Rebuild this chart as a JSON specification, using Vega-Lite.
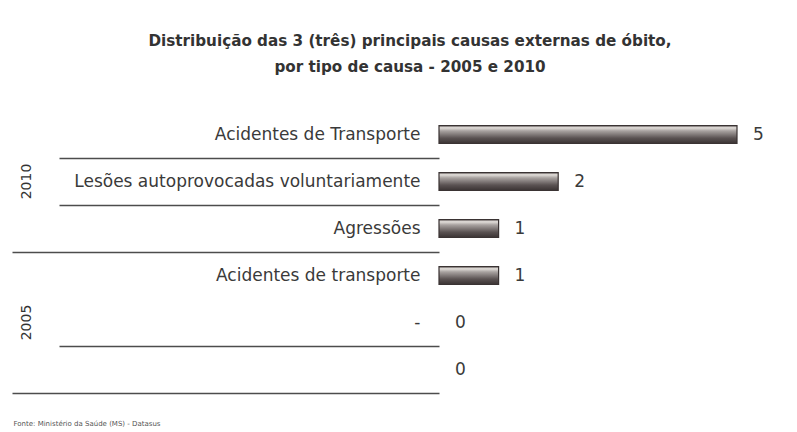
{
  "$schema": "https://vega.github.io/schema/vega-lite/v6.json",
  "autosize": {"type": "pad"},
  "padding": {"left": 11, "top": 33, "right": 0, "bottom": 0},
  "background": "white",
  "bounds": "flush",
  "config": {"view": {"stroke": null}},
  "title": {
    "text": ["Distribuição das 3 (três) principais causas externas de óbito,", "por tipo de causa - 2005 e 2010"],
    "font": "DejaVu Sans",
    "fontSize": 15.2,
    "fontWeight": "bold",
    "color": "#333333",
    "anchor": "start",
    "align": "center",
    "frame": "group",
    "lineHeight": 26,
    "offset": 36,
    "dx": -29
  },
  "data": {
    "values": [
      {"ano": "2010", "ordem": 1, "causa": "Acidentes de Transporte", "obitos": 5},
      {"ano": "2010", "ordem": 2, "causa": "Lesões autoprovocadas voluntariamente", "obitos": 2},
      {"ano": "2010", "ordem": 3, "causa": "Agressões", "obitos": 1},
      {"ano": "2005", "ordem": 4, "causa": "Acidentes de transporte", "obitos": 1},
      {"ano": "2005", "ordem": 5, "causa": "-", "obitos": 0},
      {"ano": "2005", "ordem": 6, "causa": "", "obitos": 0}
    ]
  },
  "facet": {
    "row": {
      "field": "ano",
      "type": "nominal",
      "sort": "descending",
      "header": {
        "title": null,
        "labelAngle": -90,
        "labelFont": "DejaVu Sans",
        "labelFontSize": 14,
        "labelColor": "#333333",
        "labelPadding": 398
      }
    }
  },
  "spacing": {"row": 0},
  "resolve": {"scale": {"y": "independent"}},
  "spec": {
    "width": 298,
    "height": 141,
    "encoding": {
      "y": {
        "field": "causa",
        "type": "nominal",
        "sort": {"field": "ordem", "op": "min"},
        "scale": {"paddingInner": 0, "paddingOuter": 0},
        "axis": {
          "title": null,
          "domain": false,
          "bandPosition": 1,
          "labelFont": "DejaVu Sans",
          "labelFontSize": 17,
          "labelColor": "#3a3a3a",
          "labelLimit": 0,
          "tickColor": "#4d4d4d",
          "tickWidth": 1.5,
          "tickSize": {"condition": {"test": "datum.value === 'Agressões' || datum.value === ''", "value": 427}, "value": 380},
          "labelPadding": {"condition": {"test": "datum.value === 'Agressões' || datum.value === ''", "value": -408}, "value": -361},
          "tickOpacity": {"condition": {"test": "datum.value === 'Acidentes de transporte'", "value": 0}, "value": 1},
          "minExtent": 427,
          "maxExtent": 427
        }
      }
    },
    "layer": [
      {
        "mark": {
          "type": "bar",
          "height": 18,
          "color": {
            "gradient": "linear",
            "x1": 0, "y1": 0, "x2": 0, "y2": 1,
            "stops": [
              {"offset": 0, "color": "#4a4242"},
              {"offset": 0.12, "color": "#e4e0dc"},
              {"offset": 0.3, "color": "#a8a2a0"},
              {"offset": 0.7, "color": "#5a5252"},
              {"offset": 1, "color": "#3a3333"}
            ]
          },
          "stroke": "#3a3333",
          "strokeWidth": 1.2
        },
        "encoding": {
          "x": {
            "field": "obitos",
            "type": "quantitative",
            "scale": {"domain": [0, 5]},
            "axis": {
              "title": "Fonte: Ministério da Saúde (MS) - Datasus",
              "domain": false,
              "ticks": false,
              "labels": false,
              "grid": false,
              "titleFont": "DejaVu Sans",
              "titleFontSize": 7,
              "titleFontWeight": "normal",
              "titleColor": "#555555",
              "titleAlign": "left",
              "titleBaseline": "middle",
              "titleX": -426,
              "titleY": 30.5
            }
          },
          "strokeOpacity": {"condition": {"test": "datum.obitos > 0", "value": 1}, "value": 0}
        }
      },
      {
        "mark": {
          "type": "text",
          "align": "left",
          "baseline": "middle",
          "dx": 16,
          "font": "DejaVu Sans",
          "fontSize": 17,
          "color": "#3a3a3a"
        },
        "encoding": {
          "x": {"field": "obitos", "type": "quantitative"},
          "text": {"field": "obitos", "type": "quantitative"}
        }
      }
    ]
  }
}
